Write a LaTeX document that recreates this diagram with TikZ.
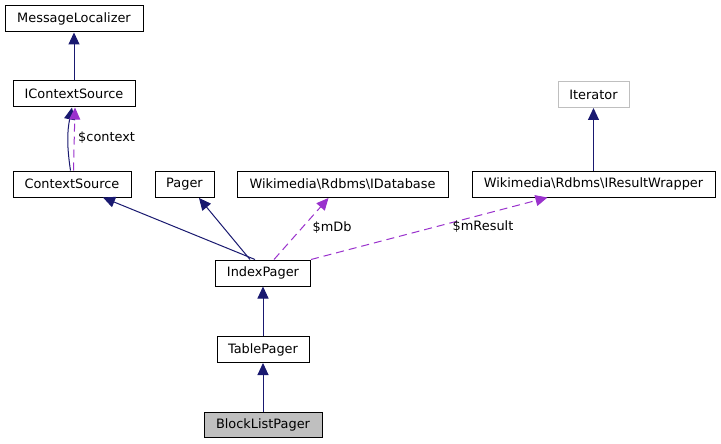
\documentclass[tikz,border=0pt]{standalone}
\usepackage{fontspec}
\setmainfont{DejaVu Sans}
\usetikzlibrary{arrows.meta}
\definecolor{edgeblue}{HTML}{191970}
\definecolor{edgepurple}{HTML}{9A32CD}
\definecolor{hilite}{HTML}{BFBFBF}
\tikzset{
    cls/.style={draw=black,fill=white,line width=1pt,minimum height=26pt,
        inner sep=0pt,font=\fontsize{12.9}{14}\selectfont},
    ext/.style={cls,draw=black!25},
    inh/.style={draw=edgeblue,line width=1pt,-{Triangle[length=12pt,width=11pt]}},
    use/.style={draw=edgepurple,line width=1pt,dash pattern=on 8pt off 5pt,
        -{Triangle[length=12pt,width=11pt]}},
    lbl/.style={font=\fontsize{12.9}{14}\selectfont,inner sep=0pt}
}
\begin{document}
\begin{tikzpicture}[x=1pt,y=-1pt]
    \useasboundingbox[fill=white] (0,0) rectangle (721,444);
    % class boxes
    \node[cls,minimum width=138pt] (ml) at (74,19) {MessageLocalizer};
    \node[cls,minimum width=122pt] (ics) at (74,94) {IContextSource};
    \node[cls,minimum width=118pt] (cs) at (72,184) {ContextSource};
    \node[cls,minimum width=59pt] (pg) at (184.5,184.5) {Pager};
    \node[cls,minimum width=211pt] (db) at (342.5,184.5) {Wikimedia\textbackslash Rdbms\textbackslash IDatabase};
    \node[ext,minimum width=71pt] (it) at (593.5,94.5) {Iterator};
    \node[cls,minimum width=243pt] (rw) at (593.5,184) {Wikimedia\textbackslash Rdbms\textbackslash IResultWrapper};
    \node[cls,minimum width=95pt] (ip) at (263,273) {IndexPager};
    \node[cls,minimum width=92pt] (tp) at (263,349.5) {TablePager};
    \node[cls,fill=hilite,minimum width=118pt,minimum height=25pt] (bl) at (263,425) {BlockListPager};
    %
    % inheritance
    \draw[inh] (ics.north) -- (ml.south);
    \draw[inh] ([xshift=-1.5pt]cs.north) to[bend left=10] ([xshift=-2pt]ics.south);
    \draw[inh] ([xshift=-8pt]ip.north) -- ([xshift=31pt]cs.south);
    \draw[inh] ([xshift=-13pt]ip.north) -- ([xshift=14.5pt]pg.south);
    \draw[inh] (rw.north) -- (it.south);
    \draw[inh] (tp.north) -- (ip.south);
    \draw[inh] (bl.north) -- (tp.south);
    %
    % usage
    \draw[use] ([xshift=1.5pt]cs.north) -- ([xshift=1pt]ics.south);
    \draw[use] ([xshift=11pt]ip.north) -- ([xshift=-14pt]db.south);
    \draw[use] (ip.north east) -- ([xshift=-46pt]rw.south);
    \node[lbl,anchor=west] (lctx) at (78,138) {\$context};
    \node[lbl] (ldb) at (332,228) {\$mDb};
    \node[lbl] (lres) at (483,227) {\$mResult};
\end{tikzpicture}
\end{document}
